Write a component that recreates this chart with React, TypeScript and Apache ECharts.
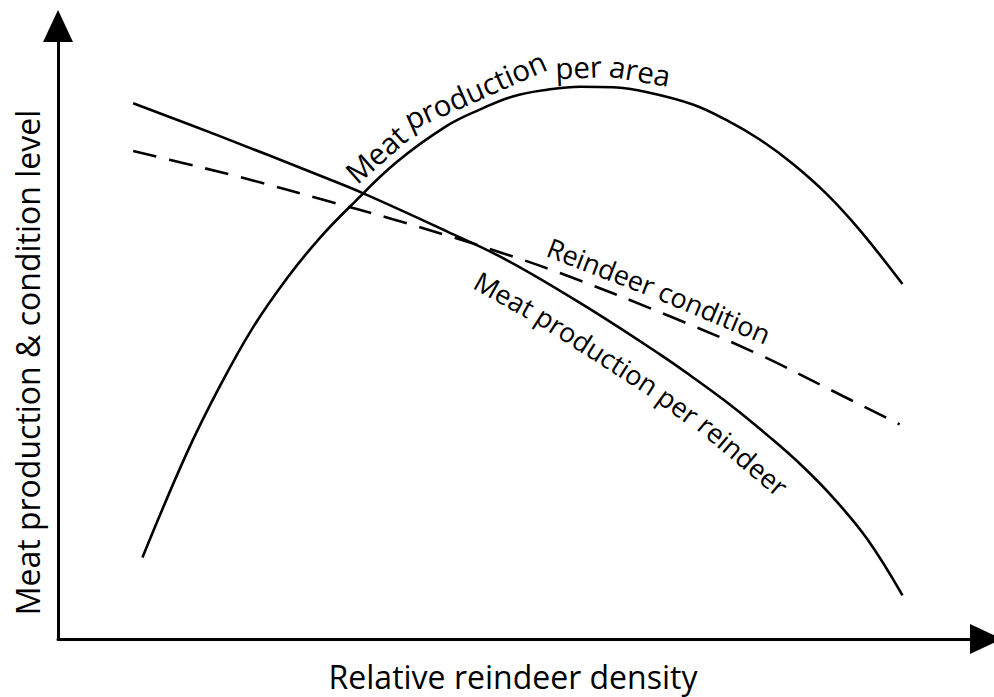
import { useEffect, useRef } from "react";
import * as echarts from "echarts";

// Relative reindeer density (x) vs level (y), both on a 0–100 relative scale
const areaX = [9.1, 13.9, 17.5, 21.0, 24.7, 28.2, 31.5, 36.5, 41.9, 45.5, 49.0, 52.7, 56.3, 59.8, 63.5, 68.4, 72.1, 75.7, 79.2, 82.9, 86.4, 91.0];
const areaY = [13.3, 30.4, 41.4, 50.8, 58.9, 65.4, 70.6, 77.8, 83.7, 86.4, 88.5, 89.6, 90.1, 90.0, 89.2, 87.2, 84.6, 81.4, 77.5, 72.5, 66.7, 57.9];

const perReindeerX = [8.1, 17.5, 28.2, 32.9, 41.9, 48.5, 56.6, 64.9, 68.4, 72.7, 76.4, 80.0, 83.5, 87.2, 91.0];
const perReindeerY = [87.4, 82.0, 75.6, 72.7, 66.5, 61.7, 54.5, 46.4, 42.7, 37.9, 33.3, 28.5, 23.1, 16.3, 7.1];

const conditionX = [8.1, 13.9, 21.0, 28.2, 35.8, 42.2, 47.6, 54.1, 66.0, 75.7, 82.9, 90.7];
const conditionY = [79.6, 77.5, 74.8, 71.8, 68.6, 65.7, 63.1, 59.7, 52.6, 46.3, 40.9, 35.0];

const xAxisTitle = "Relative reindeer density";
const yAxisTitle = "Meat production & condition level";

const seriesNames = ["Meat production per area", "Meat production per reindeer", "Reindeer condition"];

const FONT = '"Open Sans", "DejaVu Sans", sans-serif';

type Pt = [number, number];

function catmull(pts: Pt[], steps: number): Pt[] {
  const out: Pt[] = [];
  for (let i = 0; i < pts.length - 1; i++) {
    const p0 = pts[Math.max(0, i - 1)];
    const p1 = pts[i];
    const p2 = pts[i + 1];
    const p3 = pts[Math.min(pts.length - 1, i + 2)];
    for (let s = 0; s < steps; s++) {
      const t = s / steps;
      const t2 = t * t;
      const t3 = t2 * t;
      const f = (a: number, b: number, c: number, d: number) =>
        0.5 * (2 * b + (-a + c) * t + (2 * a - 5 * b + 4 * c - d) * t2 + (-a + 3 * b - 3 * c + d) * t3);
      out.push([f(p0[0], p1[0], p2[0], p3[0]), f(p0[1], p1[1], p2[1], p3[1])]);
    }
  }
  out.push(pts[pts.length - 1]);
  return out;
}

export default function App() {
  const ref = useRef<HTMLDivElement>(null);

  useEffect(() => {
    if (!ref.current) return;
    const chart = echarts.init(ref.current, null, { renderer: "svg" });

    const lineStyleBase = { color: "#000", width: 2.6 };
    chart.setOption({
      animation: false,
      backgroundColor: "#fff",
      grid: { left: 58, right: 8, top: 26, bottom: 53, containLabel: false },
      xAxis: {
        type: "value",
        min: 0,
        max: 100,
        splitLine: { show: false },
        axisTick: { show: false },
        axisLabel: { show: false },
        axisLine: {
          show: true,
          onZero: false,
          symbol: ["none", "triangle"],
          symbolSize: [30, 32],
          lineStyle: { color: "#000", width: 3 },
        },
        name: xAxisTitle,
        nameLocation: "middle",
        nameGap: 21,
        nameTextStyle: { fontFamily: FONT, fontSize: 32, color: "#000", padding: [0, 18, 0, 0] },
      },
      yAxis: {
        type: "value",
        min: 0,
        max: 100,
        splitLine: { show: false },
        axisTick: { show: false },
        axisLabel: { show: false },
        axisLine: {
          show: true,
          onZero: false,
          symbol: ["none", "triangle"],
          symbolSize: [30, 32],
          lineStyle: { color: "#000", width: 3 },
        },
        name: yAxisTitle,
        nameLocation: "middle",
        nameRotate: 90,
        nameGap: 15,
        nameTextStyle: { fontFamily: FONT, fontSize: 32, color: "#000", padding: [0, 60, 0, 0] },
      },
      series: [
        {
          name: seriesNames[0],
          type: "line",
          smooth: 0.4,
          showSymbol: false,
          data: areaX.map((x, i) => [x, areaY[i]]),
          lineStyle: { ...lineStyleBase },
        },
        {
          name: seriesNames[1],
          type: "line",
          smooth: 0.4,
          showSymbol: false,
          data: perReindeerX.map((x, i) => [x, perReindeerY[i]]),
          lineStyle: { ...lineStyleBase },
        },
        {
          name: seriesNames[2],
          type: "line",
          smooth: 0.4,
          showSymbol: false,
          data: conditionX.map((x, i) => [x, conditionY[i]]),
          lineStyle: { ...lineStyleBase, type: [24, 13] },
        },
      ],
    });

    // Curve labels placed word by word along each curve
    const canvas = document.createElement("canvas");
    const ctx = canvas.getContext("2d")!;

    const labelCfg = [
      { text: seriesNames[0], xs: areaX, ys: areaY, startX: 33.0, side: 1, offset: 20, size: 29.5 },
      { text: seriesNames[2], xs: conditionX, ys: conditionY, startX: 51.8, side: 1, offset: 21, size: 27 },
      { text: seriesNames[1], xs: perReindeerX, ys: perReindeerY, startX: 46.5, side: -1, offset: 31, size: 27 },
    ];

    const graphics: any[] = [];
    labelCfg.forEach((cfg) => {
      ctx.font = `${cfg.size}px ${FONT}`;
      const pts: Pt[] = cfg.xs.map((x, i) => chart.convertToPixel({ gridIndex: 0 }, [x, cfg.ys[i]]) as Pt);
      const dense = catmull(pts, 24);
      const off: Pt[] = dense.map((p, i) => {
        const a = dense[Math.max(0, i - 2)];
        const b = dense[Math.min(dense.length - 1, i + 2)];
        let tx = b[0] - a[0];
        let ty = b[1] - a[1];
        const L = Math.hypot(tx, ty) || 1;
        tx /= L;
        ty /= L;
        const nx = cfg.side * ty;
        const ny = -cfg.side * tx;
        return [p[0] + nx * cfg.offset, p[1] + ny * cfg.offset];
      });
      const cum = [0];
      for (let i = 1; i < off.length; i++) cum.push(cum[i - 1] + Math.hypot(off[i][0] - off[i - 1][0], off[i][1] - off[i - 1][1]));
      const startPx = (chart.convertToPixel({ gridIndex: 0 }, [cfg.startX, 0]) as Pt)[0];
      let i0 = dense.findIndex((p) => p[0] >= startPx);
      if (i0 < 0) i0 = 0;
      const at = (s: number) => {
        let j = 0;
        while (j < cum.length - 2 && cum[j + 1] < s) j++;
        const seg = cum[j + 1] - cum[j] || 1;
        const t = Math.min(1, Math.max(0, (s - cum[j]) / seg));
        const x = off[j][0] + (off[j + 1][0] - off[j][0]) * t;
        const y = off[j][1] + (off[j + 1][1] - off[j][1]) * t;
        const k0 = Math.max(0, j - 4);
        const k1 = Math.min(off.length - 1, j + 5);
        const ang = Math.atan2(off[k1][1] - off[k0][1], off[k1][0] - off[k0][0]);
        return { x, y, ang };
      };
      const spaceW = ctx.measureText(" ").width;
      let s = cum[i0];
      cfg.text.split(" ").forEach((word) => {
        const w = ctx.measureText(word).width;
        const p = at(s + w / 2);
        graphics.push({
          type: "text",
          x: p.x,
          y: p.y,
          rotation: -p.ang,
          silent: true,
          style: {
            text: word,
            fontSize: cfg.size,
            fontFamily: FONT,
            fill: "#000",
            align: "center",
            verticalAlign: "middle",
            textAlign: "center",
            textVerticalAlign: "middle",
          },
        });
        s += w + spaceW;
      });
    });

    chart.setOption({ graphic: graphics });

    return () => chart.dispose();
  }, []);

  return (
    <div
      ref={ref}
      style={{ position: "fixed", left: 0, top: 0, width: 994, height: 697, background: "#fff" }}
    />
  );
}
